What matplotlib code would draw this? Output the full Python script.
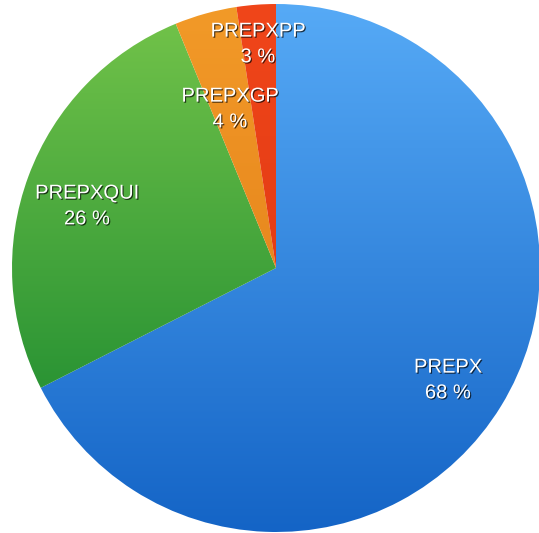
import numpy as np
import matplotlib
matplotlib.use("Agg")
from matplotlib import pyplot as plt
from matplotlib import patheffects as pe
from matplotlib.colors import LinearSegmentedColormap

# shares of each category (percent)
labels = ['PREPX', 'PREPXQUI', 'PREPXGP', 'PREPXPP']
values = [67.5, 26.3, 3.8, 2.4]
pct_text = ['68 %', '26 %', '4 %', '3 %']

# top / bottom colours for the vertical gradient of each slice
top_colors = ['#56aaf6', '#74c44a', '#f29a28', '#f0461a']
bottom_colors = ['#1464c6', '#0f822c', '#de7614', '#d83210']

W, H = 539, 533
fig = plt.figure(figsize=(W / 100, H / 100), dpi=100)
ax = fig.add_axes([0, 0, 1, 1])

cx, cy, R = 276, H - 268, 264

wedges, _ = ax.pie(values, center=(cx, cy), radius=R, startangle=90,
                   counterclock=False, frame=True,
                   wedgeprops=dict(linewidth=0))

grad = np.linspace(0, 1, 256).reshape(-1, 1)
for w, c1, c2 in zip(wedges, top_colors, bottom_colors):
    cmap = LinearSegmentedColormap.from_list('g', [c1, c2])
    w.set_facecolor('none')
    im = ax.imshow(grad, cmap=cmap, aspect='auto', origin='upper',
                   extent=(cx - R, cx + R, cy - R, cy + R), zorder=1)
    im.set_clip_path(w)

# label placement (pixel coords from the top-left)
label_xy = [(448, 380), (87, 206), (230, 109), (258, 44)]
shadow = [pe.withSimplePatchShadow(offset=(0.8, -0.8), shadow_rgbFace='black', alpha=0.7)]
for name, pct, (x, y) in zip(labels, pct_text, label_xy):
    ax.text(x, H - y, name + '\n' + pct, ha='center', va='center',
            color='white', fontsize=14.5, family='Liberation Sans',
            linespacing=1.45, zorder=5, path_effects=shadow)

ax.set_xlim(0, W)
ax.set_ylim(0, H)
ax.set_aspect('equal')
ax.axis('off')

fig.savefig('out.png', dpi=100)
